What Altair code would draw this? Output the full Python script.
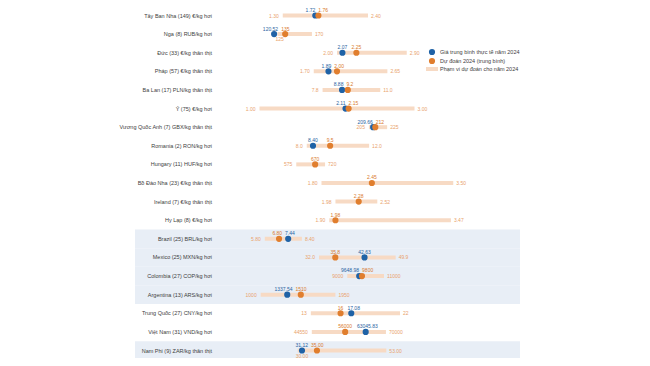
import altair as alt
import pandas as pd

# ---------------- data ----------------
rows = [
    "Tây Ban Nha (149) €/kg hơi", "Nga (8) RUB/kg hơi", "Đức (33) €/kg thân thịt",
    "Pháp (57) €/kg thân thịt", "Ba Lan (17) PLN/kg thân thịt", "Ý (75) €/kg hơi",
    "Vương Quốc Anh (7) GBX/kg thân thịt", "Romania (2) RON/kg hơi", "Hungary (11) HUF/kg hơi",
    "Bồ Đào Nha (23) €/kg thân thịt", "Ireland (7) €/kg thân thịt", "Hy Lạp (8) €/kg hơi",
    "Brazil (25) BRL/kg hơi", "Mexico (25) MXN/kg hơi", "Colombia (27) COP/kg hơi",
    "Argentina (13) ARS/kg hơi", "Trung Quốc (27) CNY/kg hơi", "Việt Nam (31) VND/kg hơi",
    "Nam Phi (9) ZAR/kg thân thịt",
]
actual = ["1.72", "120.52", "2.07", "1.89", "8.88", "2.11", "209.66", "8.40", None, None, None, None,
          "7.44", "42.63", "9648.98", "1337.54", "17.08", "63045.83", "31.12"]
forecast = ["1.76", "135", "2.25", "2.00", "9.2", "2.15", "212", "9.5", "670", "2.45", "2.28", "1.98",
            "6.80", "35.8", "9800", "1510", "16", "56000", "35.00"]
range_min = ["1.30", "125", "2.00", "1.70", "7.8", "1.00", "205", "8.0", "575", "1.80", "1.98", "1.90",
             "5.80", "32.0", "9000", "1000", "13", "44550", "30.00"]
range_max = ["2.40", "170", "2.90", "2.65", "11.0", "3.00", "225", "12.0", "720", "3.50", "2.52", "3.47",
             "8.40", "49.9", "11000", "1950", "22", "70000", "53.00"]
# local currency units per euro (the rows are drawn on a common euro axis)
per_eur = [1, 101.4, 1, 1, 4.30, 1, 85, 4.97, 390, 1, 1, 1,
           5.43, 18.1, 4220, 985, 7.82, 26600, 20.1]
shaded_rows = ["Brazil (25) BRL/kg hơi", "Mexico (25) MXN/kg hơi", "Colombia (27) COP/kg hơi",
               "Argentina (13) ARS/kg hơi", "Nam Phi (9) ZAR/kg thân thịt"]
min_label_below = ["Nga (8) RUB/kg hơi", "Nam Phi (9) ZAR/kg thân thịt"]
legend_labels = ["Giá trung bình thực tế năm 2024", "Dự đoán 2024 (trung bình)",
                 "Phạm vi dự đoán cho năm 2024"]

# ---------------- style / layout ----------------
BLUE = "#1f62a6"
ORANGE = "#e07e2e"
BLUE_TXT = "#2a64a2"
ORANGE_TXT = "#d97a2c"
RANGE = "#f7dac4"
RANGE_TXT = "#e9a26c"
SHADE = "#e8eef6"
LABEL = "#404040"
FONT = "Liberation Sans"
FS = 5.0
W, H = 310, 335
X_MIN, X_MAX = 0.0, 4.0
PX = W / (X_MAX - X_MIN)
ROW_STEP = H / (len(rows) - 1)
PAD_TOP = 7.5


def tw(s, fs):
    return sum(0.556 * fs if c.isdigit() else 0.278 * fs for c in s)


dot_recs = []
for i, r in enumerate(rows):
    pair = []
    for kind, arr in (("actual", actual), ("forecast", forecast)):
        if arr[i] is not None:
            pair.append(dict(row=r, kind=kind, text=arr[i], eur=float(arr[i]) / per_eur[i]))
    if len(pair) == 2:
        a, b = sorted(pair, key=lambda d: d["eur"])
        mid = (a["eur"] + b["eur"]) / 2
        g = 1.5 / PX
        a["anchor"] = min(a["eur"] + tw(a["text"], FS) / 2 / PX, mid - g)
        a["align"] = "right"
        b["anchor"] = max(b["eur"] - tw(b["text"], FS) / 2 / PX, mid + g)
        b["align"] = "left"
    else:
        pair[0]["anchor"] = pair[0]["eur"]
        pair[0]["align"] = "center"
    dot_recs += pair
dots = pd.DataFrame(dot_recs)

rng = pd.DataFrame({
    "row": rows,
    "lo": [float(v) / k for v, k in zip(range_min, per_eur)],
    "hi": [float(v) / k for v, k in zip(range_max, per_eur)],
    "tmin": range_min,
    "tmax": range_max,
})
rng["below"] = rng["row"].isin(min_label_below)
shade_df = pd.DataFrame({"row": shaded_rows})
lab_df = pd.DataFrame({"row": rows})

Y = alt.Y("row:N", scale=alt.Scale(type="point", domain=rows, padding=0), axis=None)


def X(field):
    return alt.X(f"{field}:Q", scale=alt.Scale(domain=[X_MIN, X_MAX], nice=False, zero=False), axis=None)


bands = alt.Chart(shade_df).mark_rule(color=SHADE, strokeWidth=ROW_STEP).encode(
    y=Y, x=alt.value(-47), x2=alt.value(338))

bars = alt.Chart(rng).mark_rule(color=RANGE, strokeWidth=4).encode(
    y=Y, x=X("lo"), x2="hi")

blue_dots = alt.Chart(dots).transform_filter(alt.datum.kind == "actual").mark_circle(
    size=38, opacity=1, color=BLUE).encode(y=Y, x=X("eur"))
orange_dots = alt.Chart(dots).transform_filter(alt.datum.kind == "forecast").mark_circle(
    size=38, opacity=1, color=ORANGE).encode(y=Y, x=X("eur"))

val_layers = []
for al in ("left", "right", "center"):
    val_layers.append(
        alt.Chart(dots).transform_filter(alt.datum.align == al).mark_text(
            align=al, baseline="alphabetic", dy=-3.6, font=FONT, fontSize=FS).encode(
            y=Y, x=X("anchor"), text="text:N",
            color=alt.Color("kind:N", scale=alt.Scale(domain=["actual", "forecast"],
                                                      range=[BLUE_TXT, ORANGE_TXT]), legend=None))
    )

min_side = alt.Chart(rng).transform_filter(~alt.datum.below).mark_text(
    align="right", baseline="middle", dx=-4, font=FONT, fontSize=FS, color=RANGE_TXT).encode(
    y=Y, x=X("lo"), text="tmin:N")
min_below = alt.Chart(rng).transform_filter(alt.datum.below).mark_text(
    align="left", baseline="middle", dx=-2, dy=5, font=FONT, fontSize=FS, color=RANGE_TXT).encode(
    y=Y, x=X("lo"), text="tmin:N")
max_side = alt.Chart(rng).mark_text(
    align="left", baseline="middle", dx=3, font=FONT, fontSize=FS, color=RANGE_TXT).encode(
    y=Y, x=X("hi"), text="tmax:N")

row_labels = alt.Chart(lab_df).mark_text(
    align="right", baseline="middle", font=FONT, fontSize=5.5, color=LABEL).encode(
    y=Y, x=alt.value(30), text="row:N")

# legend (drawn by hand)
leg_y = [36.5, 45.5, 53.5]
leg = []
leg.append(alt.Chart(pd.DataFrame({"t": [legend_labels[0]]})).mark_circle(
    size=38, opacity=1, color=BLUE).encode(x=alt.value(250), y=alt.value(leg_y[0])))
leg.append(alt.Chart(pd.DataFrame({"t": [legend_labels[1]]})).mark_circle(
    size=38, opacity=1, color=ORANGE).encode(x=alt.value(250), y=alt.value(leg_y[1])))
leg.append(alt.Chart(pd.DataFrame({"t": [legend_labels[2]]})).mark_rule(
    color=RANGE, strokeWidth=4).encode(x=alt.value(244), x2=alt.value(256), y=alt.value(leg_y[2])))
for t, yv in zip(legend_labels, leg_y):
    leg.append(alt.Chart(pd.DataFrame({"t": [t]})).mark_text(
        align="left", baseline="middle", font=FONT, fontSize=5.5, color=LABEL).encode(
        x=alt.value(258), y=alt.value(yv), text="t:N"))

chart = alt.layer(
    bands, bars, blue_dots, orange_dots, *val_layers, min_side, min_below, max_side, row_labels, *leg
).properties(
    width=W, height=H,
    autosize=alt.AutoSizeParams(type="none"),
    padding={"left": 174, "top": PAD_TOP, "right": 150, "bottom": 350 - PAD_TOP - H},
    background="white",
).configure_view(stroke=None)

chart.save("out.html", embed_options={"renderer": "svg", "actions": False})
